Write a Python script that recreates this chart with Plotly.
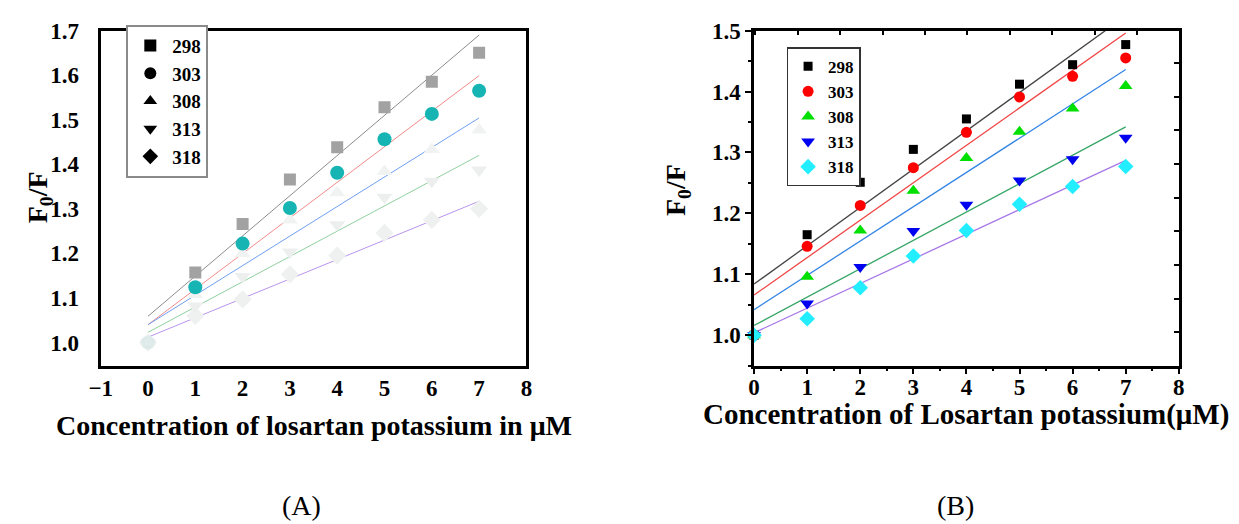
import plotly.graph_objects as go

# ---------------- data ----------------
conc = [0, 1, 2, 3, 4, 5, 6, 7]
temps = ["298", "303", "308", "313", "318"]

# Panel A (F0/F)
a_298 = [1.000, 1.157, 1.266, 1.366, 1.438, 1.528, 1.585, 1.650]
a_303 = [1.000, 1.124, 1.222, 1.302, 1.381, 1.456, 1.513, 1.565]
a_308 = [1.000, 1.108, 1.200, 1.275, 1.336, 1.384, 1.433, 1.477]
a_313 = [1.000, 1.082, 1.148, 1.203, 1.264, 1.326, 1.362, 1.387]
a_318 = [1.000, 1.060, 1.097, 1.153, 1.195, 1.246, 1.275, 1.300]
# fitted lines (value at x=0 and x=7)
a_fit_start = [1.059, 1.040, 1.040, 1.023, 1.012]
a_fit_end = [1.690, 1.599, 1.504, 1.420, 1.317]

# Panel B (F0/F)
b_298 = [1.000, 1.165, 1.251, 1.305, 1.355, 1.412, 1.444, 1.477]
b_303 = [1.000, 1.146, 1.213, 1.275, 1.333, 1.391, 1.425, 1.455]
b_308 = [1.000, 1.096, 1.172, 1.237, 1.291, 1.334, 1.372, 1.409]
b_313 = [1.000, 1.052, 1.112, 1.171, 1.214, 1.254, 1.289, 1.324]
b_318 = [1.000, 1.027, 1.078, 1.130, 1.172, 1.215, 1.244, 1.277]
b_fit_start = [1.084, 1.066, 1.042, 1.016, 1.004]
b_fit_end = [1.524, 1.496, 1.436, 1.342, 1.287]

fit_x = [0, 7]

FONT = "Liberation Serif"
W, H = 1239, 524

def px(x):
    return x / W

def py(y):
    return 1 - y / H

fig = go.Figure()

# ---------------- Panel A ----------------
a_series = [a_298, a_303, a_308, a_313, a_318]
a_marker_col = ["#a2a2a2", "#17b4b4", "#f1f3f2", "#edefee", "#eff1f0"]
a_symbols = ["square", "circle", "triangle-up", "triangle-down", "diamond"]
a_sizes = [12, 14, 14, 14, 14]
a_line_col = ["#8c8c8c", "#f28b8b", "#6f9ff0", "#90d0a0", "#b894ec"]

for i, ys in enumerate(a_series):
    fig.add_trace(go.Scatter(
        x=fit_x, y=[a_fit_start[i], a_fit_end[i]], mode="lines",
        line=dict(color=a_line_col[i], width=1), xaxis="x", yaxis="y",
        showlegend=False, hoverinfo="skip"))
# faint markers drawn first, bold ones on top
for i in [4, 3, 2, 1, 0]:
    ys = a_series[i]
    op = [0.06] + [1] * (len(ys) - 1) if i < 2 else 1
    fig.add_trace(go.Scatter(
        x=conc, y=ys, mode="markers",
        marker=dict(color=a_marker_col[i], symbol=a_symbols[i], size=a_sizes[i],
                    opacity=op, line=dict(width=0)),
        xaxis="x", yaxis="y", showlegend=False))
# legend entries for panel A (black symbols)
for i, t in enumerate(temps):
    fig.add_trace(go.Scatter(
        x=[None], y=[None], mode="markers", name=t,
        marker=dict(color="black", symbol=a_symbols[i], size=12),
        xaxis="x", yaxis="y", legend="legend", showlegend=True))

# ---------------- Panel B ----------------
b_series = [b_298, b_303, b_308, b_313, b_318]
b_marker_col = ["#000000", "#ff0000", "#00e000", "#0000f0", "#22eeff"]
b_symbols = ["square", "circle", "triangle-up", "triangle-down", "diamond"]
b_sizes = [9, 11, 12, 12, 12]
b_line_col = ["#444444", "#f04545", "#3585e5", "#35a565", "#a878e8"]

for i, ys in enumerate(b_series):
    fig.add_trace(go.Scatter(
        x=fit_x, y=[b_fit_start[i], b_fit_end[i]], mode="lines",
        line=dict(color=b_line_col[i], width=1.3), xaxis="x2", yaxis="y2",
        showlegend=False, hoverinfo="skip", cliponaxis=True))
for i, ys in enumerate(b_series):
    fig.add_trace(go.Scatter(
        x=conc, y=ys, mode="markers", name=temps[i],
        marker=dict(color=b_marker_col[i], symbol=b_symbols[i], size=b_sizes[i],
                    line=dict(width=0)),
        xaxis="x2", yaxis="y2", legend="legend2", showlegend=True,
        cliponaxis=False))
# helper traces so the inward top/right tick axes are drawn
fig.add_trace(go.Scatter(x=[None], y=[None], xaxis="x3", yaxis="y2",
                         showlegend=False, hoverinfo="skip"))
fig.add_trace(go.Scatter(x=[None], y=[None], xaxis="x2", yaxis="y3",
                         showlegend=False, hoverinfo="skip"))

dom_y = [py(362), py(19)]
tickfont_a = dict(family=FONT, size=23, color="black", weight="bold")
tickfont_b = dict(family=FONT, size=23, color="black", weight="bold")

fig.update_layout(
    width=W, height=H, margin=dict(l=0, r=0, t=0, b=0),
    paper_bgcolor="white", plot_bgcolor="white",
    font=dict(family=FONT, color="black"),
    xaxis=dict(domain=[px(90), px(522)], range=[-1, 8], dtick=1, tick0=0,
               showgrid=False, zeroline=False, showline=True, linewidth=3,
               linecolor="black", mirror=True, ticks="", tickfont=tickfont_a,
               ticklabelstandoff=0, anchor="y"),
    yaxis=dict(domain=dom_y, range=[0.948, 1.7], dtick=0.1, tick0=1.0,
               tickformat=".1f", showgrid=False, zeroline=False, showline=True,
               linewidth=3, linecolor="black", mirror=True, ticks="",
               tickfont=tickfont_a, ticklabelstandoff=14, anchor="x"),
    xaxis2=dict(domain=[px(753), px(1184)], range=[0, 8], dtick=1, tick0=0,
                showgrid=False, zeroline=False, showline=True, linewidth=2.5,
                linecolor="black", mirror=True, ticks="outside", ticklen=6,
                tickwidth=2, tickcolor="black", tickfont=tickfont_b,
                minor=dict(ticks="outside", dtick=0.5, ticklen=3, tickwidth=2,
                           tickcolor="black"),
                ticklabelstandoff=-7, anchor="y2"),
    yaxis2=dict(domain=dom_y, range=[0.95, 1.5], dtick=0.1, tick0=1.0,
                tickformat=".1f", showgrid=False, zeroline=False, showline=True,
                linewidth=2.5, linecolor="black", mirror=True, ticks="outside",
                ticklen=6, tickwidth=2, tickcolor="black", tickfont=tickfont_b,
                minor=dict(ticks="outside", dtick=0.05, ticklen=3, tickwidth=2,
                           tickcolor="black"),
                ticklabelstandoff=0, anchor="x2"),
    xaxis3=dict(overlaying="x2", side="top", anchor="y2", range=[0, 8],
                tick0=0.82, dtick=0.8, ticks="inside", ticklen=4, tickwidth=2,
                tickcolor="black", showticklabels=False, showgrid=False,
                zeroline=False, showline=False),
    yaxis3=dict(overlaying="y2", side="right", anchor="x2", range=[0.95, 1.5],
                tick0=1.447, dtick=0.0553, ticks="inside", ticklen=5,
                tickwidth=2, tickcolor="black", showticklabels=False,
                showgrid=False, zeroline=False, showline=False),
    legend=dict(x=px(116), y=py(13), xanchor="left", yanchor="top",
                bordercolor="#8a8a8a", borderwidth=2, bgcolor="white",
                font=dict(family=FONT, size=19, color="black", weight="bold"),
                itemwidth=34, tracegroupgap=0),
    legend2=dict(x=px(786), y=py(36), xanchor="left", yanchor="top",
                 bordercolor="#333333", borderwidth=1.5, bgcolor="white",
                 font=dict(family=FONT, size=17, color="black", weight="bold"),
                 itemwidth=30, tracegroupgap=0),
    showlegend=True,
)

def note(text, x, y, font, angle=0):
    fig.add_annotation(text=text, x=px(x), y=py(y), xref="paper", yref="paper",
                       xanchor="center", yanchor="middle", showarrow=False,
                       textangle=angle, font=font)

note("Concentration of losartan potassium in μM", 306, 423,
     dict(family=FONT, size=28, color="black", weight="bold"))
note("Concentration of Losartan potassium(μM)", 968, 412,
     dict(family=FONT, size=29, color="black", weight="bold"))
yt_font = dict(family=FONT, size=28, color="black", weight="bold")
note("F<sub>0</sub>/F", 28, 190, yt_font, -90)
note("F<sub>0</sub>/F", 676, 182, yt_font, -90)
note("(A)", 294, 505, dict(family=FONT, size=28, color="black"))
note("(B)", 957, 505, dict(family=FONT, size=28, color="black"))

fig.write_html("out.html")
